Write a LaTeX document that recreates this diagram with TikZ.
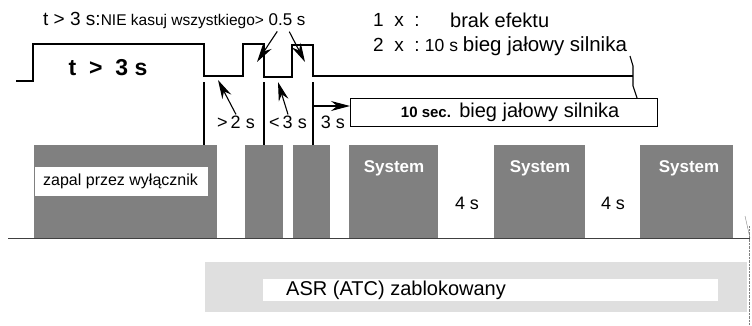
\documentclass[tikz,border=0pt]{standalone}
\usepackage{fontspec}
\setmainfont{Liberation Sans}
\usetikzlibrary{arrows.meta}

\newcommand{\fsz}[1]{\fontsize{#1}{#1}\selectfont}

\begin{document}
\begin{tikzpicture}[x=1pt,y=-1pt,
    sig/.style={line width=1.3pt},
    blok/.style={fill=black!50},
    lbl/.style={inner sep=1pt},
    pfeil/.style={line width=1.1pt,-{Stealth[length=19pt,width=10pt]}}]
    \useasboundingbox (0,0) rectangle (752,325);

    % signal and markers
    \draw[sig] (16,81) -- (33,81) -- (33,44) -- (204,44) -- (204,76) -- (243,76) -- (243,44)
        -- (264,44) -- (264,77) -- (292,77) -- (292,45) -- (313,45) -- (313,76) -- (633,76);
    \foreach \x in {204,264,313} \draw[sig] (\x,82) -- (\x,145);
    \draw[line width=1.1pt] (630,56) -- (633,66) -- (633,86) -- (637,98);

    % texts on top
    \node[lbl, anchor=west] (tgt) at (42,20) {\fsz{19}t > 3 s:\fsz{15.5}NIE kasuj wszystkiego>};
    \node[lbl] (half) at (287,20) {\fsz{17}0.5 s};
    \node[lbl, anchor=west] (einmal) at (372,20) {\fsz{19}1\ \ x\ \ :};
    \node[lbl, anchor=west] (keinef) at (449,20) {\fsz{20}brak efektu};
    \node[lbl, anchor=west] (zweimal) at (372,46) {\fsz{19}2\ \ x\ \ :\ \fsz{17.5}10 s\ \fsz{20.5}bieg jałowy silnika};
    \node[lbl] (tbig) at (108,68) {\fsz{23}\bfseries t\ \ >\ \ 3 s};

    \coordinate (h1) at (257,62);
    \coordinate (h2) at (305,62);
    \draw[pfeil, shorten <=5pt] (half.south) ++(-7,0) -- (h1);
    \draw[pfeil, shorten <=5pt] (half.south) -- (h2);

    % intervals
    \node[lbl] (gt2) at (236,122) {\fsz{18}>\,2 s};
    \node[lbl] (lt3) at (288,122) {\fsz{18}<\,3 s};
    \node[lbl] (drei) at (333,122) {\fsz{18}3 s};
    \coordinate (p1) at (218,80);
    \coordinate (p2) at (278,82);
    \coordinate (m3) at (313,106);
    \draw[pfeil] (gt2.north) -- (p1);
    \draw[pfeil] (lt3.north) -- (p2);

    \node[draw, line width=1.3pt, anchor=north west, minimum width=307pt, minimum height=28pt] (leer) at (350,98)
        {\hspace*{12pt}\fsz{15}\bfseries 10 sec.\ \ \fsz{20}\mdseries bieg jałowy silnika};
    \draw[pfeil] (m3) -- (m3 -| leer.west);

    % blocks
    \foreach \a/\b in {34/217, 245/283, 293/330, 349/438, 494/585, 640/733}
        \fill[blok] (\a,145) rectangle (\b,238);
    \fill[white] (35,167) rectangle (208,196);
    \node[lbl, anchor=west] (zapal) at (42,181) {\fsz{16}zapal przez wyłącznik};
    \foreach \x/\n in {394/s1, 540/s2, 689/s3}
        \node[lbl, text=white] (\n) at (\x,168) {\fsz{17}\bfseries System};
    \node[lbl] (p41) at (467,203) {\fsz{18}4 s};
    \node[lbl] (p42) at (613,203) {\fsz{18}4 s};
    \draw[line width=0.9pt, black!75] (8,238) -- (750,238);

    % ASR box
    \fill[gray!25] (205,262) rectangle (747,312);
    \fill[white] (263,279) rectangle (718,301);
    \node[lbl, anchor=west] (asr) at (285,290) {\fsz{20}ASR (ATC) zablokowany};
    \draw[gray, densely dotted] (749,226) -- (749,325);
    \draw[gray] (745,216) -- (750,238);
\end{tikzpicture}
\end{document}
